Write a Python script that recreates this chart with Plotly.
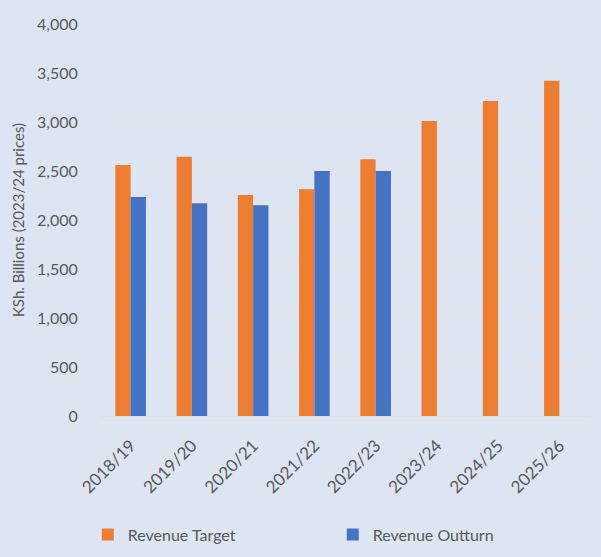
import plotly.graph_objects as go

categories = ["2018/19", "2019/20", "2020/21", "2021/22", "2022/23", "2023/24", "2024/25", "2025/26"]
revenue_target = [2560, 2645, 2255, 2315, 2620, 3010, 3215, 3420]
revenue_outturn = [2235, 2170, 2150, 2500, 2500, None, None, None]

bg = "#dde5f2"
fig = go.Figure()
fig.add_trace(go.Bar(x=categories, y=revenue_target, name="Revenue Target",
                     marker=dict(color="#ed7d31", line=dict(width=0))))
fig.add_trace(go.Bar(x=categories, y=revenue_outturn, name="Revenue Outturn",
                     marker=dict(color="#4472c4", line=dict(width=0))))

fig.update_layout(
    width=601, height=557,
    paper_bgcolor=bg, plot_bgcolor=bg,
    margin=dict(l=100, r=11, t=24, b=141),
    barmode="group", bargap=0.5, bargroupgap=0,
    font=dict(family="Lato, Open Sans, sans-serif", size=15, color="#595959"),
    xaxis=dict(tickangle=-45, showgrid=False, showline=True, linecolor="#e3e0d6",
               linewidth=1, ticks="outside", ticklen=12, tickcolor=bg,
               tickfont=dict(size=17), automargin=False),
    yaxis=dict(range=[0, 4000], dtick=500, tickformat=",", showgrid=True,
               gridcolor="#e6e4dc", gridwidth=1, zeroline=False,
               ticks="outside", ticklen=18, tickcolor=bg,
               tickfont=dict(size=16), automargin=False,
               title=dict(text="KSh. Billions (2023/24 prices)", font=dict(size=15), standoff=8)),
    legend=dict(orientation="h", xref="container", x=0.146, xanchor="left",
                yref="container", y=0.04, yanchor="middle",
                entrywidth=200, entrywidthmode="pixels", font=dict(size=16),
                bgcolor="rgba(0,0,0,0)", itemwidth=30),
    showlegend=True,
)
fig.write_html("out.html")
